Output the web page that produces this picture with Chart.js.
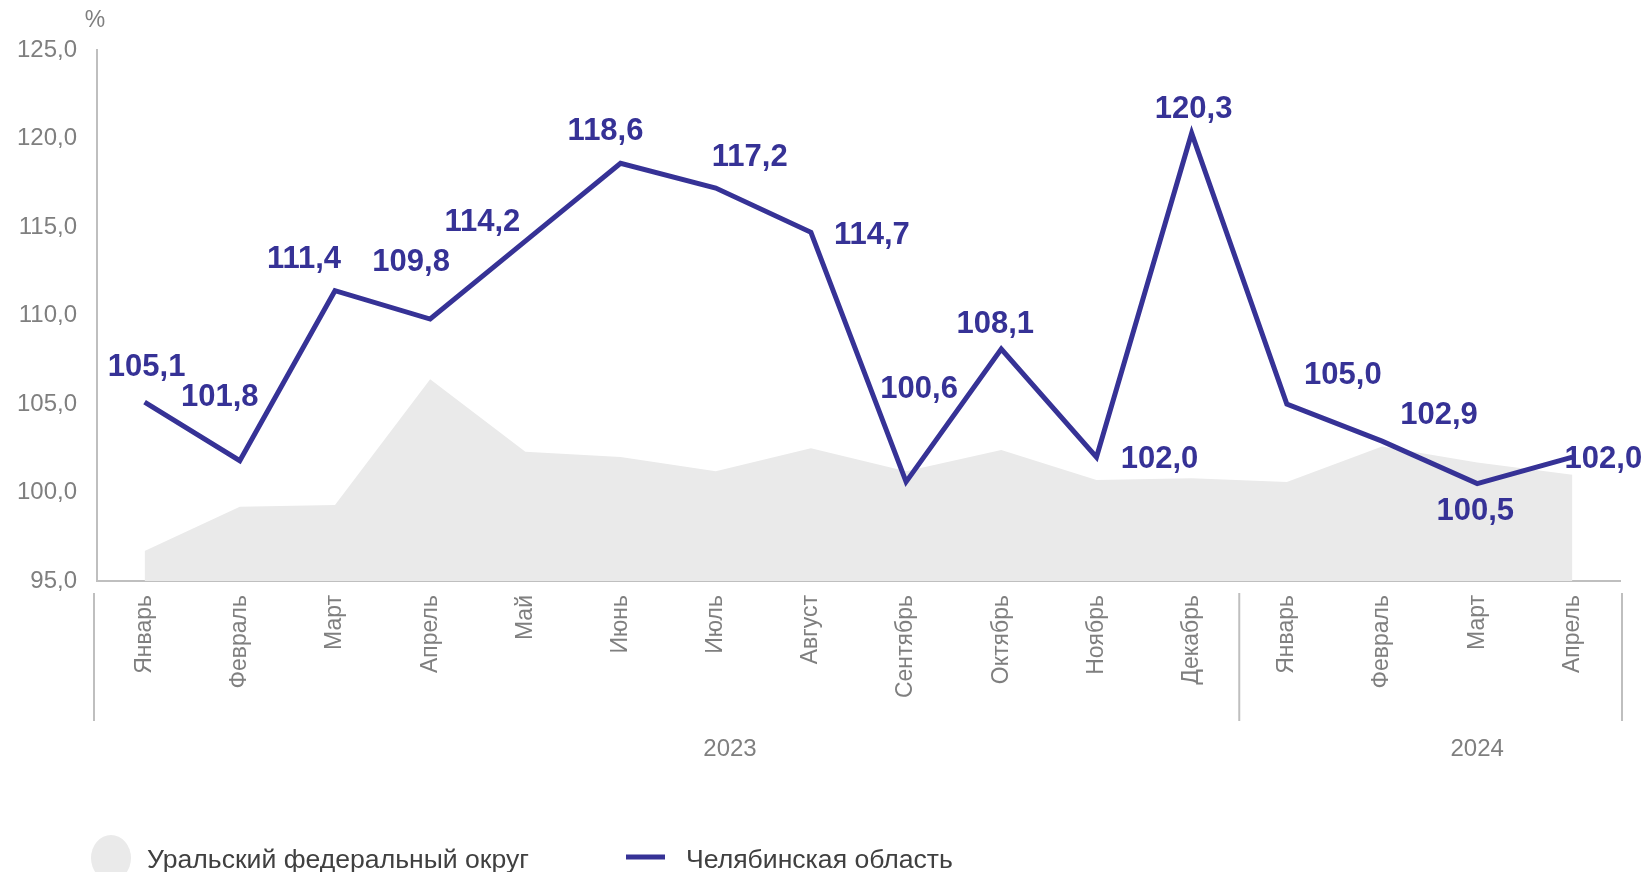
<!DOCTYPE html>
<html>
<head>
<meta charset="utf-8">
<script src="https://cdn.jsdelivr.net/npm/chart.js@4.4.1/dist/chart.umd.min.js"></script>
<style>
html,body{margin:0;padding:0;background:#fff;}
#wrap{width:1643px;height:872px;position:relative;}
</style>
</head>
<body>
<div id="wrap"><canvas id="c" width="1643" height="872"></canvas></div>
<script>
// ---- DATA ----
const months = ['Январь','Февраль','Март','Апрель','Май','Июнь','Июль','Август','Сентябрь','Октябрь','Ноябрь','Декабрь','Январь','Февраль','Март','Апрель'];
const years = ['2023','2024'];
const yearSpans = [12, 4];
const uralValues = [96.7, 99.2, 99.3, 106.4, 102.3, 102.0, 101.2, 102.5, 101.2, 102.4, 100.7, 100.8, 100.6, 102.6, 101.7, 101.0];
const chelValues = [105.1, 101.8, 111.4, 109.8, 114.2, 118.6, 117.2, 114.7, 100.6, 108.1, 102.0, 120.3, 105.0, 102.9, 100.5, 102.0];
const seriesNames = ['Уральский федеральный округ', 'Челябинская область'];
const yTicks = [95, 100, 105, 110, 115, 120, 125];
const unitLabel = '%';

// ---- STYLE / LAYOUT ----
const FONT = "'Liberation Sans', Arial, sans-serif";
const LINE_COLOR = '#363296';
const AREA_COLOR = '#EAEAEA';
const TEXT_GRAY = '#7F7F7F';
const AXIS_GRAY = '#BFBFBF';
const labelOffsets = [[2,-35],[-20,-63],[-31,-31],[-19,-57],[-43,-19],[-15,-32],[34,-31],[61,3],[13,-92],[-6,-25],[63,2],[2,-24],[56,-29],[57,-26],[-2,28],[31,2]];
const yearLabelIndex = [6.15, 14.0];

const fmt = v => v.toFixed(1).replace('.', ',');

const extrasPlugin = {
  id: 'extras',
  afterDatasetsDraw(chart) {
    const ctx = chart.ctx;
    const meta = chart.getDatasetMeta(1);
    ctx.save();
    ctx.font = 'bold 31px ' + FONT;
    ctx.fillStyle = LINE_COLOR;
    ctx.textAlign = 'center';
    ctx.textBaseline = 'middle';
    meta.data.forEach((pt, i) => {
      const o = labelOffsets[i];
      ctx.fillText(fmt(chelValues[i]), pt.x + o[0], pt.y + o[1]);
    });
    ctx.restore();
  },
  afterDraw(chart) {
    const ctx = chart.ctx;
    const xs = chart.scales.x;
    const ys = chart.scales.y;
    ctx.save();
    // unit label
    ctx.font = '23px ' + FONT;
    ctx.fillStyle = TEXT_GRAY;
    ctx.textAlign = 'center';
    ctx.textBaseline = 'middle';
    ctx.fillText(unitLabel, xs.left - 2, 21);
    // year separators
    ctx.strokeStyle = AXIS_GRAY;
    ctx.lineWidth = 2;
    const top = ys.bottom + 12, bot = ys.bottom + 140;
    const bounds = [xs.left - 3];
    let acc = 0;
    yearSpans.forEach((s, k) => {
      acc += s;
      if (k < yearSpans.length - 1) {
        bounds.push((xs.getPixelForValue(acc - 1) + xs.getPixelForValue(acc)) / 2);
      } else {
        bounds.push(xs.right + 2);
      }
    });
    bounds.forEach(bx => {
      ctx.beginPath();
      ctx.moveTo(bx, top);
      ctx.lineTo(bx, bot);
      ctx.stroke();
    });
    // year labels
    ctx.font = '24px ' + FONT;
    ctx.fillStyle = TEXT_GRAY;
    years.forEach((y, k) => {
      ctx.fillText(y, xs.getPixelForValue(yearLabelIndex[k]), ys.bottom + 168);
    });
    // legend
    const ly = 858;
    ctx.fillStyle = AREA_COLOR;
    ctx.beginPath();
    ctx.ellipse(111, ly, 20, 23, 0, 0, Math.PI * 2);
    ctx.fill();
    ctx.fillStyle = '#404040';
    ctx.font = '26.6px ' + FONT;
    ctx.textAlign = 'left';
    ctx.textBaseline = 'alphabetic';
    ctx.fillText(seriesNames[0], 147, 868);
    ctx.strokeStyle = LINE_COLOR;
    ctx.lineWidth = 5;
    ctx.beginPath();
    ctx.moveTo(626, 857);
    ctx.lineTo(665, 857);
    ctx.stroke();
    ctx.fillText(seriesNames[1], 686, 868);
    ctx.restore();
  }
};

new Chart(document.getElementById('c'), {
  type: 'line',
  data: {
    labels: months,
    datasets: [
      {
        label: seriesNames[0],
        data: uralValues,
        fill: 'start',
        backgroundColor: AREA_COLOR,
        borderWidth: 0,
        borderColor: 'rgba(0,0,0,0)',
        pointRadius: 0,
        tension: 0,
        order: 2
      },
      {
        label: seriesNames[1],
        data: chelValues,
        fill: false,
        borderColor: LINE_COLOR,
        borderWidth: 5,
        borderJoinStyle: 'miter',
        pointRadius: 0,
        tension: 0,
        order: 1
      }
    ]
  },
  options: {
    responsive: false,
    animation: false,
    devicePixelRatio: 1,
    layout: { padding: { top: 50, left: 0, right: 23, bottom: 0 } },
    plugins: { legend: { display: false }, tooltip: { enabled: false } },
    scales: {
      x: {
        type: 'category',
        offset: true,
        grid: { display: false, drawTicks: false },
        border: { display: true, color: AXIS_GRAY, width: 2 },
        ticks: {
          autoSkip: false,
          maxRotation: 90,
          minRotation: 90,
          padding: 14,
          color: TEXT_GRAY,
          font: { family: FONT, size: 23 }
        },
        afterFit(s) { s.height = 291; }
      },
      y: {
        min: 95,
        max: 125,
        afterBuildTicks(s) { s.ticks = yTicks.map(v => ({ value: v })); },
        grid: { display: false, drawTicks: false },
        border: { display: true, color: AXIS_GRAY, width: 2 },
        ticks: {
          padding: 20,
          color: TEXT_GRAY,
          font: { family: FONT, size: 24 },
          callback: v => fmt(v)
        },
        afterFit(s) { s.width = 97; }
      }
    }
  },
  plugins: [extrasPlugin]
});
</script>
</body>
</html>
